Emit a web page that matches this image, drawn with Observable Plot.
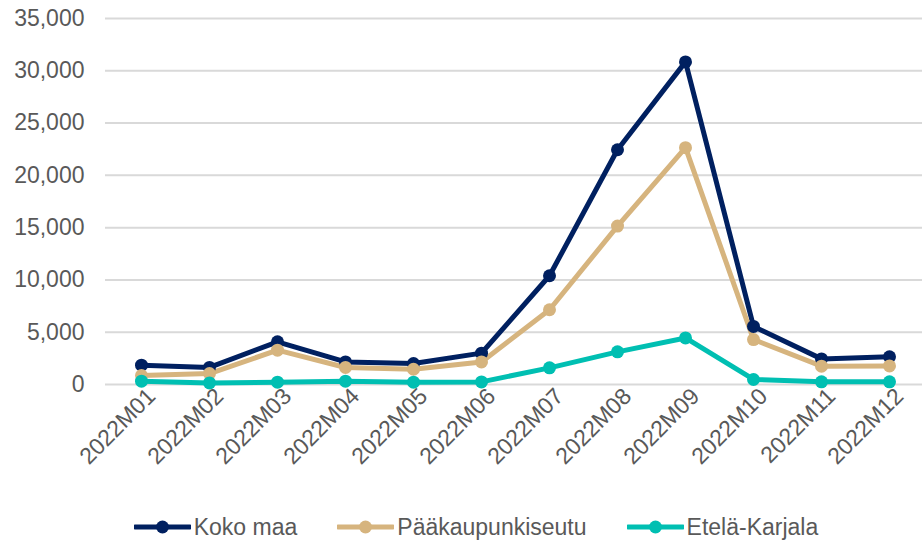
<!DOCTYPE html>
<html>
<head>
<meta charset="utf-8">
<script src="https://cdn.jsdelivr.net/npm/d3@7"></script>
<script src="https://cdn.jsdelivr.net/npm/@observablehq/plot@0.6"></script>
<style>
  html, body { margin: 0; padding: 0; background: #fff; }
  body { width: 922px; height: 541px; overflow: hidden; font-family: "Liberation Sans", Arial, sans-serif; }
  #chart svg { display: block; }
  #legend { display: flex; justify-content: center; gap: 40px; margin-top: 22px; font-size: 23px; line-height: 26px; color: #595959; margin-left: 30px; }
  #legend .item { display: flex; align-items: center; gap: 3px; }
  #legend svg { display: block; }
</style>
</head>
<body>
<div id="chart"></div>
<div id="legend"></div>
<script>
const months = ["2022M01","2022M02","2022M03","2022M04","2022M05","2022M06","2022M07","2022M08","2022M09","2022M10","2022M11","2022M12"];
const seriesNames = ["Koko maa", "Pääkaupunkiseutu", "Etelä-Karjala"];
const kokoMaa = [1850, 1630, 4080, 2160, 2000, 3000, 10400, 22450, 30850, 5550, 2450, 2650];
const paakaupunkiseutu = [860, 1050, 3280, 1630, 1460, 2160, 7150, 15150, 22650, 4300, 1750, 1780];
const etelaKarjala = [320, 150, 220, 320, 220, 250, 1590, 3120, 4450, 480, 260, 260];
const colors = ["#002060", "#d6b47e", "#00bfb2"];
const yTicks = [0, 5000, 10000, 15000, 20000, 25000, 30000, 35000];

const values = [kokoMaa, paakaupunkiseutu, etelaKarjala];
const data = [];
seriesNames.forEach((s, i) => months.forEach((m, j) => data.push({series: s, month: m, value: values[i][j]})));

const fmt = d3.format(",");
const chart = Plot.plot({
  width: 922,
  height: 492,
  marginLeft: 105,
  marginRight: 0,
  marginTop: 18,
  marginBottom: 108,
  style: { fontFamily: "Liberation Sans, Arial, sans-serif", fontSize: "23px", color: "#595959" },
  x: { type: "point", domain: months, range: [138.5, 890.5], padding: 0, label: null },
  y: { domain: [0, 35000], label: null },
  color: { domain: seriesNames, range: colors },
  marks: [
    Plot.gridY(yTicks, { stroke: "#d9d9d9", strokeOpacity: 1, strokeWidth: 2 }),
    Plot.axisY(yTicks, { tickSize: 0, tickPadding: 21, tickFormat: fmt, fill: "#595959", fontSize: 23 }),
    Plot.axisX(months, { tickSize: 0, tickRotate: -45, tickPadding: 4, fill: "#595959", fontSize: 23, dx: 10, dy: 4 }),
    Plot.line(data, { x: "month", y: "value", z: "series", stroke: "series", strokeWidth: 5, strokeLinejoin: "round" }),
    Plot.dot(data, { x: "month", y: "value", fill: "series", r: 6.5 })
  ]
});
document.getElementById("chart").appendChild(chart);

const legend = document.getElementById("legend");
seriesNames.forEach((s, i) => {
  const item = document.createElement("div");
  item.className = "item";
  item.innerHTML = `<svg width="57" height="16"><line x1="1" y1="8" x2="56" y2="8" stroke="${colors[i]}" stroke-width="5" stroke-linecap="round"/><circle cx="28.5" cy="8" r="6.5" fill="${colors[i]}"/></svg><span>${s}</span>`;
  legend.appendChild(item);
});
</script>
</body>
</html>
